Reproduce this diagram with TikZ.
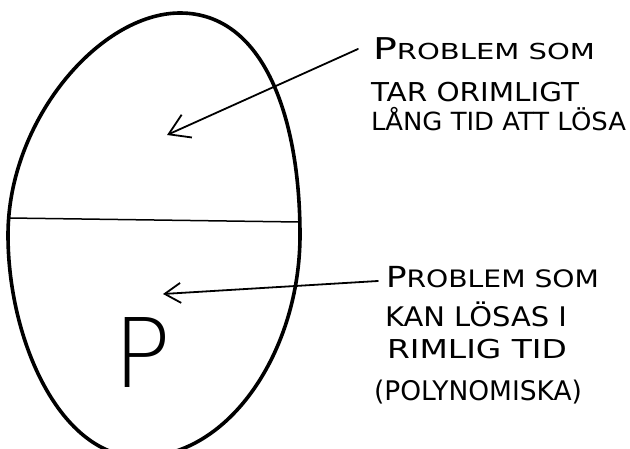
\documentclass[tikz,border=0pt]{standalone}
\usepackage{fontspec}
\usepackage{graphicx}
\setmainfont{DejaVu Sans}
\newfontfamily\hand{DejaVu Sans}
\newfontfamily\thinP{DejaVu Sans ExtraLight}
\usetikzlibrary{arrows.meta}
\newcommand\hw[3][24]{\resizebox{#2}{\height}{\hand\fontsize{#1}{#1}\selectfont #3}}
\begin{document}
\begin{tikzpicture}[x=1pt,y=-1pt,
  egg/.style={line width=3.6pt},
  divider/.style={line width=1.5pt},
  pointer/.style={line width=1.8pt, line cap=round},
  lbl/.style={anchor=base west, inner sep=0pt, outer sep=0pt}]
\useasboundingbox (0,0) rectangle (630,449);
\begin{scope}
\clip (0,0) rectangle (630,449);
\draw[egg] (180,13) .. controls (265,13) and (300,120) .. (300,235)
  .. controls (300,350) and (230,457) .. (140,457)
  .. controls (60,457) and (8,340) .. (8,235)
  .. controls (8,120) and (100,13) .. cycle;
\end{scope}
\coordinate (dl) at (9,218);
\coordinate (dr) at (299,222);
\draw[divider] (dl) -- (dr);

% upper label
\node[lbl] (t1a) at (373,60) {\hw[22]{222pt}{{\fontsize{30}{30}\selectfont P}ROBLEM SOM}};
\node[lbl] (t1b) at (371,102) {\hw[26]{208pt}{TAR ORIMLIGT}};
\node[lbl] (t1c) at (371,131) {\hw[25]{255pt}{LÅNG TID ATT LÖSA}};

% lower label
\node[lbl] (t2a) at (386,288) {\hw[24]{213pt}{{\fontsize{29}{29}\selectfont P}ROBLEM SOM}};
\node[lbl] (t2b) at (385,327) {\hw[27]{182pt}{KAN LÖSAS I}};
\node[lbl] (t2c) at (387,359) {\hw[26]{180pt}{RIMLIG TID}};
\node[lbl] (t2d) at (374,400) {\hw[27]{208pt}{(POLYNOMISKA)}};

% big P
\node[anchor=base, inner sep=0pt] (P) at (142,388) {\thinP\fontsize{96}{96}\selectfont P};

% arrows
\coordinate (s1) at (358,49);
\coordinate (tip1) at (167,135);
\coordinate (s2) at (378,281);
\coordinate (tip2) at (163,294);
\draw[pointer, -{Straight Barb[length=20pt,width=25pt]}] (s1) -- (tip1);
\draw[pointer, -{Straight Barb[length=16pt,width=20pt]}] (s2) -- (tip2);
\end{tikzpicture}
\end{document}
